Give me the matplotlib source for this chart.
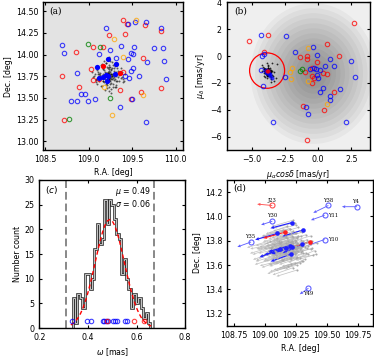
#Cluster membership figure: sky position, proper motion, parallax, motion vectors
import numpy as np
import matplotlib.pyplot as plt
from matplotlib.patches import Ellipse, Circle

# cluster members (black dots / grey arrows)
mem_ra = [109.24,109.22,109.26,109.20,109.28,109.25,109.23,109.21,109.27,109.19,
          109.30,109.17,109.24,109.26,109.22,109.32,109.15,109.29,109.18,109.25,
          109.34,109.13,109.21,109.27,109.23,109.36,109.11,109.31,109.16,109.24,
          109.38,109.09,109.20,109.28,109.26,109.40,109.07,109.33,109.14,109.22,
          109.19,109.29,109.25,109.17,109.31,109.23,109.35,109.12,109.27,109.21,
          109.05,109.42,109.18,109.30,109.24,109.10,109.37,109.16,109.26,109.22,
          109.28,109.20,109.13,109.34,109.25,109.08,109.39,109.23,109.19,109.29,
          109.15,109.32,109.27,109.21,109.24,109.17,109.30,109.26,109.12,109.36,
          109.22,109.23,109.24,109.21,109.25,109.22,109.23,109.24,109.20,109.26,
          109.23,109.22,109.25,109.21,109.24,109.27,109.19,109.23,109.22,109.26,
          109.24,109.21,109.25,109.23,109.20,109.28,109.22,109.24,109.18,109.26,
          109.33,109.11,109.29,109.16,109.38,109.06,109.31,109.14,109.35,109.09,
          109.27,109.19,109.30,109.17,109.25,109.21,109.34,109.13,109.28,109.23,
          109.41,109.04,109.32,109.15,109.26,109.20,109.37,109.10,109.29,109.18]
mem_dec = [13.76,13.74,13.78,13.75,13.73,13.80,13.71,13.79,13.77,13.72,
           13.76,13.78,13.69,13.83,13.74,13.75,13.73,13.81,13.68,13.86,
           13.79,13.74,13.65,13.72,13.88,13.77,13.80,13.70,13.84,13.62,
           13.74,13.71,13.90,13.66,13.82,13.72,13.77,13.85,13.64,13.79,
           13.76,13.77,13.70,13.73,13.80,13.83,13.69,13.78,13.75,13.67,
           13.74,13.78,13.92,13.63,13.86,13.82,13.73,13.70,13.60,13.84,
           13.88,13.66,13.76,13.81,13.93,13.72,13.68,13.58,13.80,13.71,
           13.89,13.65,13.84,13.61,13.95,13.75,13.87,13.67,13.70,13.79,
           13.75,13.76,13.74,13.77,13.75,13.73,13.78,13.76,13.75,13.74,
           13.72,13.77,13.76,13.74,13.79,13.75,13.77,13.73,13.80,13.77,
           13.71,13.76,13.73,13.75,13.79,13.76,13.70,13.81,13.74,13.72,
           13.70,13.78,13.84,13.69,13.80,13.75,13.63,13.88,13.76,13.68,
           13.91,13.59,13.72,13.83,13.66,13.86,13.74,13.79,13.62,13.97,
           13.69,13.80,13.78,13.64,13.56,13.90,13.84,13.66,13.74,13.82]
mem_pmra = [-3.80,-3.75,-3.85,-3.78,-3.70,-3.90,-3.82,-3.76,-3.88,-3.72,
            -3.65,-3.95,-3.81,-3.79,-3.60,-3.98,-3.84,-3.74,-3.86,-3.77,
            -3.55,-4.02,-3.83,-3.68,-3.92,-3.50,-4.05,-3.71,-3.89,-3.80,
            -3.45,-4.10,-3.76,-3.66,-3.94,-3.40,-4.15,-3.62,-3.99,-3.82,
            -3.79,-3.73,-3.87,-3.70,-3.91,-3.78,-3.58,-4.00,-3.75,-3.85,
            -3.30,-4.20,-3.81,-3.63,-3.96,-3.20,-4.25,-3.69,-3.88,-3.77,
            -3.74,-3.83,-3.10,-3.57,-4.08,-3.35,-3.86,-3.72,-3.93,-3.64,
            -3.81,-3.52,-4.12,-3.78,-3.67,-3.90,-3.76,-3.84,-3.48,-4.04,
            -3.80,-3.82,-3.78,-3.84,-3.79,-3.81,-3.77,-3.83,-3.86,-3.76,
            -3.80,-3.85,-3.75,-3.82,-3.78,-3.88,-3.73,-3.81,-3.79,-3.90,
            -3.72,-3.84,-3.77,-3.83,-3.87,-3.74,-3.80,-3.92,-3.70,-3.82,
            -3.68,-3.95,-3.76,-3.86,-3.64,-3.98,-3.79,-3.71,-3.89,-3.60,
            -3.83,-3.76,-3.93,-3.67,-3.81,-4.00,-3.62,-3.85,-3.74,-3.97,
            -3.56,-4.06,-3.78,-3.88,-3.70,-3.84,-3.59,-4.01,-3.80,-3.75]
mem_pmdec = [-1.15,-1.10,-1.20,-1.12,-1.18,-1.05,-1.25,-1.14,-1.08,-1.22,
             -1.16,-1.02,-1.28,-1.11,-1.19,-0.98,-1.30,-1.13,-1.06,-1.24,
             -1.17,-0.95,-1.33,-1.09,-1.21,-1.40,-0.90,-1.26,-1.04,-1.36,
             -1.12,-1.45,-0.85,-1.23,-1.07,-1.50,-0.80,-1.29,-1.01,-1.38,
             -1.14,-1.18,-1.10,-1.20,-1.16,-0.75,-1.55,-1.13,-0.70,-1.60,
             -1.19,-1.08,-1.42,-0.88,-1.27,-1.65,-0.65,-1.32,-1.03,-1.47,
             -1.15,-1.22,-0.60,-1.70,-1.11,-1.85,-0.55,-1.35,-0.96,-1.52,
             -1.17,-1.90,-0.93,-1.44,-1.00,-1.31,-1.09,-1.26,-0.50,-1.58,
             -1.14,-1.16,-1.13,-1.17,-1.15,-1.12,-1.18,-1.11,-1.16,-1.19,
             -1.10,-1.15,-1.20,-1.13,-1.17,-1.09,-1.21,-1.14,-1.08,-1.18,
             -1.22,-1.12,-1.16,-1.07,-1.23,-1.19,-1.05,-1.15,-1.25,-1.11,
             -1.27,-1.03,-1.18,-1.30,-1.06,-1.20,-1.33,-0.99,-1.24,-1.10,
             -1.16,-1.36,-1.01,-1.21,-1.13,-0.97,-1.28,-1.40,-1.08,-1.19,
             -1.14,-1.26,-0.92,-1.32,-1.17,-1.45,-1.04,-1.23,-0.89,-1.35]

# young stars that are members (filled symbols)
fill_ra = [109.22,109.31,109.10,109.30,109.20,109.22,109.17,109.12,109.21,109.16,109.36]
fill_dec = [13.95,13.89,13.86,13.77,13.76,13.75,13.74,13.73,13.69,13.87,13.79]
fill_pmra = [-3.90,-3.75,-3.95,-3.50,-3.80,-3.70,-3.85,-3.62,-3.65,-3.85,-3.75]
fill_pmdec = [-1.05,-1.20,-1.15,-1.60,-1.10,-1.30,-1.25,-1.45,-1.35,-1.10,-1.12]
fill_col = ['b','b','b','b','b','b','b','b','b','r','r']

# non-member young stars, panel (a)
a_red_ra = [109.40,109.44,109.65,109.83,109.23,109.42,109.05,109.16,108.86,109.62,108.69,
            109.03,109.05,109.12,108.89,109.36,109.40,109.60,109.83,109.49,108.72]
a_red_dec = [14.40,14.35,14.34,14.27,14.22,14.24,14.09,14.09,14.03,13.96,13.75,
             13.83,13.71,13.72,13.62,13.59,13.80,13.57,13.61,13.49,13.24]
a_blue_ra = [109.20,109.45,109.53,109.66,109.83,108.69,108.72,109.12,109.25,109.37,109.52,
             109.49,109.51,109.75,109.86,108.87,109.45,109.67,109.87,109.89,109.58,109.51,
             109.49,109.42,109.46,108.91,108.96,108.80,108.87,108.99,109.07,109.36,109.50,
             109.66,109.31]
a_blue_dec = [14.31,14.35,14.37,14.37,14.31,14.11,14.02,14.01,14.05,14.10,14.09,
              14.02,14.01,14.08,14.07,13.79,13.95,13.91,13.93,13.72,13.75,13.85,
              13.81,13.75,13.73,13.55,13.54,13.47,13.46,13.46,13.49,13.40,13.49,
              13.22,13.96]
a_orange_ra = [109.54,109.29,109.39,109.18,109.63,109.27]
a_orange_dec = [14.40,14.18,13.97,13.62,13.53,13.30]
a_green_ra = [108.99,109.13,109.25,108.77]
a_green_dec = [14.12,14.09,13.50,13.26]

# non-member young stars, panel (b)
b_red_x = [-5.18,-3.80,-4.08,2.70,0.70,1.55,-1.38,-0.82,-0.82,-0.05,-0.50,-0.50,-0.30,
           -0.43,0.63,0.40,1.18,0.45,-1.13,-0.83,-1.00]
b_red_y = [1.10,1.55,0.33,2.45,0.90,0.00,-0.10,0.00,-0.18,-0.45,-0.88,-1.50,-1.65,
           -1.98,-1.35,-1.25,-2.65,-4.00,-3.75,-6.23,-1.18]
b_blue_x = [-4.33,-2.40,-1.75,-0.38,-0.10,0.88,2.50,0.50,1.18,-0.13,0.13,-0.08,0.00,2.75,
            -2.50,-4.18,-4.30,-4.08,-4.20,0.33,0.13,0.90,0.88,1.68,2.13,-3.38,-0.95,-0.75,
            -0.60,-0.35]
b_blue_y = [1.60,1.50,0.33,0.70,0.08,-0.25,-0.38,-0.75,-0.75,-0.93,-1.05,-1.43,-1.60,-1.55,
            -1.55,-2.25,-1.05,0.18,0.00,-2.38,-2.70,-3.00,-3.30,-2.48,-4.88,-4.93,-3.80,-4.30,
            -0.95,-0.90]
b_orange_x = [-0.75,-2.00,-2.13,-2.05,-0.80,0.70]
b_orange_y = [0.58,-0.88,-1.18,-1.73,-1.85,-3.55]
b_green_x = [-1.38,-1.20]
b_green_y = [-1.13,-0.93]

# panel (c): parallax histogram
hist_edges = np.arange(0.337, 0.6575, 0.01)
hist_counts = [6,1,7,6,4,11,11,8,10,16,21,17,18,26,21,26,25,22,19,18,11,14,10,8,4,7,5,6,4,2,3,1]
fit_x = np.arange(0.33, 0.6650, 0.01)
fit_y = [0.63,0.97,1.45,2.10,2.98,4.10,5.49,7.14,9.05,11.1,13.3,15.5,17.6,19.4,20.8,21.7,22.0,
         21.7,20.8,19.4,17.6,15.5,13.3,11.1,9.05,7.14,5.49,4.10,2.98,2.10,1.45,0.97,0.63,0.42]
plx_blue = [0.333,0.395,0.412,0.461,0.468,0.475,0.482,0.505,0.512,0.519,0.553,0.560]
plx_red = [0.477,0.590,0.632]
mu, sigma = 0.49, 0.06

# panel (d): labelled stars with their motions
lab_name = ['J23','Y38','Y4','Y11','Y30','Y35','Y10','Y49']
lab_ra = [109.06,109.51,109.74,109.48,109.06,108.89,109.48,109.35]
lab_dec = [14.09,14.09,14.08,14.01,13.96,13.79,13.81,13.41]
lab_pmra = [-2.70,-2.70,-2.70,-2.45,-2.00,-2.45,-2.90,-1.55]
lab_pmdec = [0.25,-1.35,0.00,-0.90,-0.65,-0.90,-1.00,-1.10]
lab_col = ['r','b','b','b','b','b','b','b']
vec_scale = 0.045   # deg per mas/yr for the arrows

plt.rcParams['font.size'] = 5.7
plt.rcParams['xtick.direction'] = 'in'
plt.rcParams['ytick.direction'] = 'in'
plt.rcParams['xtick.top'] = True
plt.rcParams['ytick.right'] = True
plt.rcParams['xtick.major.size'] = 2.5
plt.rcParams['ytick.major.size'] = 2.5
plt.rcParams['axes.linewidth'] = 1.0

fig = plt.figure(figsize=(3.74, 3.57), dpi=100)
ax1 = fig.add_axes([0.116, 0.580, 0.372, 0.413])
ax2 = fig.add_axes([0.606, 0.580, 0.383, 0.413])
ax3 = fig.add_axes([0.105, 0.081, 0.390, 0.415])
ax4 = fig.add_axes([0.608, 0.087, 0.390, 0.409])

ring = dict(marker='o', mfc='none', ls='none', ms=3.2, mew=0.8, alpha=0.75)

#(a) sky positions
ax1.set_facecolor('#e3e3e3')
ax1.plot(mem_ra, mem_dec, 'o', color='k', ms=1.4, alpha=0.6, mew=0)
ax1.plot(a_red_ra, a_red_dec, mec='r', **ring)
ax1.plot(a_blue_ra, a_blue_dec, mec='b', **ring)
ax1.plot(a_orange_ra, a_orange_dec, mec='orange', **ring)
ax1.plot(a_green_ra, a_green_dec, mec='g', **ring)
for i in range(len(fill_ra)):
    ax1.plot(fill_ra[i], fill_dec[i], 'o', color=fill_col[i], ms=3.8, mew=0)
ax1.set_xlim(108.48, 110.08)
ax1.set_ylim(12.9, 14.6)
ax1.set_xticks([108.5, 109.0, 109.5, 110.0])
ax1.set_yticks([13.0, 13.25, 13.5, 13.75, 14.0, 14.25, 14.5])
ax1.set_yticklabels(['13.00','13.25','13.50','13.75','14.00','14.25','14.50'])
ax1.set_xlabel('R.A. [deg]', labelpad=3)
ax1.set_ylabel('Dec. [deg]', labelpad=2)
ax1.text(0.04, 0.975, '(a)', transform=ax1.transAxes, va='top', family='serif', fontsize=6.5)

#(b) proper motions, field stars shown as a soft grey cloud
ax2.set_facecolor('#efefef')
for k in range(14):
    f = 1.0 - k / 14.0
    ax2.add_patch(Ellipse((-0.35, -1.3), 9.5 * f, 10.5 * f, color='k', alpha=0.035, lw=0))
ax2.plot(mem_pmra, mem_pmdec, 'o', color='k', ms=1.3, alpha=0.8, mew=0)
ax2.plot(b_red_x, b_red_y, mec='r', **ring)
ax2.plot(b_blue_x, b_blue_y, mec='b', **ring)
ax2.plot(b_orange_x, b_orange_y, mec='orange', **ring)
ax2.plot(b_green_x, b_green_y, mec='g', **ring)
for i in range(len(fill_pmra)):
    ax2.plot(fill_pmra[i], fill_pmdec[i], 'o', color=fill_col[i], ms=3.0, mew=0, alpha=0.7)
ax2.add_patch(Circle((-3.85, -1.08), 1.32, fc='none', ec='r', lw=0.9))
ax2.set_xlim(-6.9, 3.9)
ax2.set_ylim(-7, 4)
ax2.set_xticks([-5.0, -2.5, 0.0, 2.5])
ax2.set_yticks([-6, -4, -2, 0, 2, 4])
ax2.set_xlabel(r'$\mu_\alpha cos\delta$ [mas/yr]', labelpad=3)
ax2.set_ylabel(r'$\mu_\delta$ [mas/yr]', labelpad=2)
ax2.text(0.05, 0.975, '(b)', transform=ax2.transAxes, va='top', family='serif', fontsize=6.5)

#(c) parallax
ax3.stairs(hist_counts, hist_edges, fill=False, edgecolor='#333333', lw=1.9, zorder=2)
ax3.stairs(hist_counts, hist_edges, fill=False, edgecolor='#c8c8c8', lw=0.7, zorder=2)
ax3.plot(fit_x, fit_y, color='r', lw=1.0, ls=(0, (3, 2)), zorder=3)
ax3.axvline(mu - 3*sigma, color='#888888', lw=1.4, ls=(0, (4, 2)))
ax3.axvline(mu + 3*sigma, color='#888888', lw=1.4, ls=(0, (4, 2)))
ax3.plot(plx_blue, [1.5]*len(plx_blue), mec='b', zorder=4, **ring)
ax3.plot(plx_red, [1.5]*len(plx_red), mec='r', zorder=4, **ring)
ax3.text(0.66, 27.6, r'$\mu$ = %.2f' % mu, ha='right', va='center')
ax3.text(0.66, 25.2, r'$\sigma$ = %.2f' % sigma, ha='right', va='center')
ax3.text(0.04, 0.975, '$(c)$', transform=ax3.transAxes, va='top', fontsize=6.5)
ax3.set_xlim(0.2, 0.8)
ax3.set_ylim(0, 30)
ax3.set_xticks([0.2, 0.4, 0.6, 0.8])
ax3.set_yticks([0, 5, 10, 15, 20, 25, 30])
ax3.set_xlabel(r'$\omega$ [mas]', labelpad=3)
ax3.set_ylabel('Number count', labelpad=2)

#(d) motion vectors
mra = np.array(mem_ra); mdec = np.array(mem_dec)
ax4.quiver(mra, mdec, np.array(mem_pmra)*vec_scale, np.array(mem_pmdec)*vec_scale,
           angles='xy', scale_units='xy', scale=1, color='#b4b4b4', width=0.005,
           headwidth=3.5, headlength=4, headaxislength=3.5, alpha=0.8)
ax4.plot(mra, mdec, 'o', color='#a8a8a8', ms=1.5, mew=0)
for i in range(len(fill_ra)):
    c = '#2020ff' if fill_col[i] == 'b' else '#ff2020'
    ax4.quiver(fill_ra[i], fill_dec[i], fill_pmra[i]*vec_scale, fill_pmdec[i]*vec_scale,
               angles='xy', scale_units='xy', scale=1, color=c, width=0.008,
               headwidth=3, headlength=3.5, headaxislength=3)
    ax4.plot(fill_ra[i], fill_dec[i], 'o', color=c, ms=3.3, mew=0)
lab_off = {'J23': (0, 0.045), 'Y38': (0, 0.045), 'Y4': (-0.01, 0.045), 'Y11': (0.07, 0.0),
           'Y30': (0, 0.045), 'Y35': (-0.01, 0.045), 'Y10': (0.07, 0.0), 'Y49': (0.0, -0.045)}
for i in range(len(lab_name)):
    c = '#6060ff' if lab_col[i] == 'b' else '#ff5050'
    ax4.quiver(lab_ra[i], lab_dec[i], lab_pmra[i]*vec_scale, lab_pmdec[i]*vec_scale,
               angles='xy', scale_units='xy', scale=1, color=c, width=0.006,
               headwidth=3.5, headlength=4, headaxislength=3.5)
    ax4.plot(lab_ra[i], lab_dec[i], 'o', mfc='none', mec=c, ms=3.6, mew=0.8)
    dx, dy = lab_off[lab_name[i]]
    ax4.text(lab_ra[i] + dx, lab_dec[i] + dy, lab_name[i], ha='center', va='center',
             family='serif', fontsize=3.8)
ax4.set_xlim(108.7, 109.87)
ax4.set_ylim(13.1, 14.3)
ax4.set_xticks([108.75, 109.0, 109.25, 109.5, 109.75])
ax4.set_xticklabels(['108.75','109.00','109.25','109.50','109.75'])
ax4.set_yticks([13.2, 13.4, 13.6, 13.8, 14.0, 14.2])
ax4.set_xlabel('R.A. [deg]', labelpad=3)
ax4.set_ylabel('Dec. [deg]', labelpad=2)
ax4.text(0.04, 0.975, '(d)', transform=ax4.transAxes, va='top', family='serif', fontsize=6.5)

plt.savefig('out.png', dpi=100)
